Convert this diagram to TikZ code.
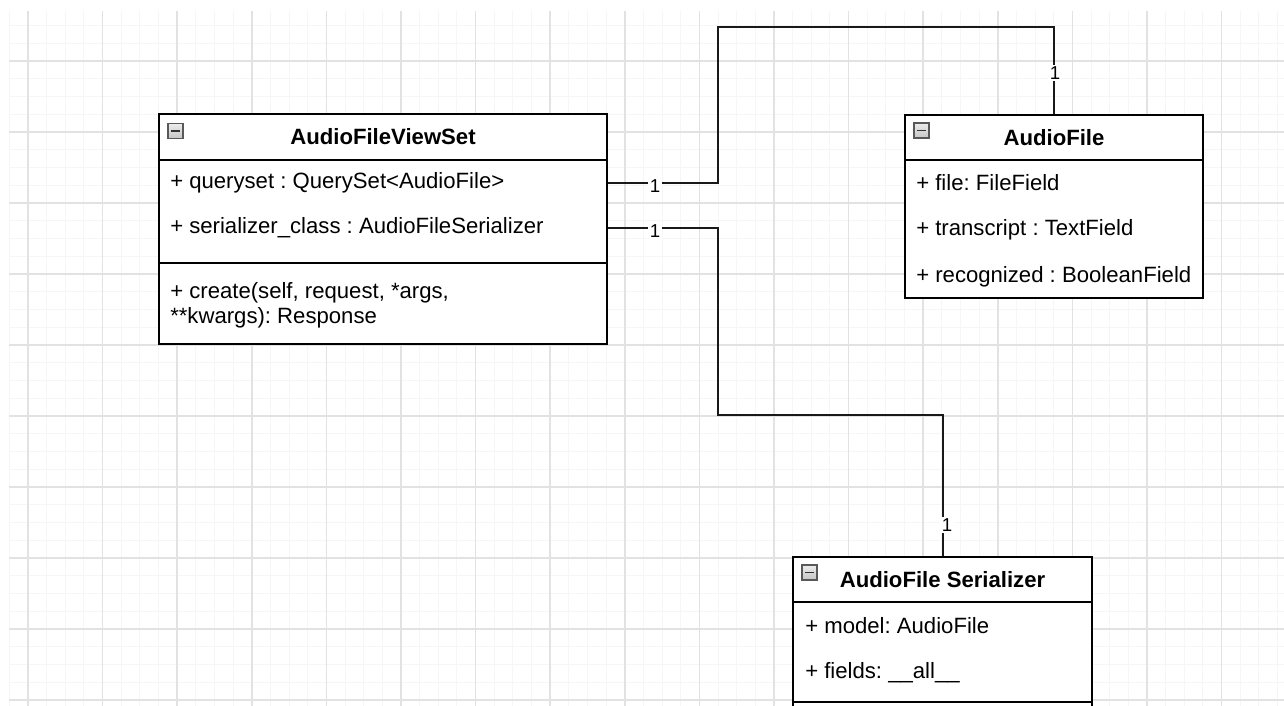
\documentclass[tikz,border=0pt]{standalone}
\usepackage{fontspec}
\setmainfont{Liberation Sans}
\usetikzlibrary{positioning,calc}

\definecolor{minorline}{HTML}{F6F6F6}
\definecolor{majorline}{HTML}{E2E2E2}

\tikzset{
  classbox/.style={draw=black, line width=1.5pt, fill=white, inner sep=0pt},
  cname/.style={inner sep=0pt, font=\fontsize{16.6}{20}\selectfont\bfseries},
  attr/.style={anchor=west, inner sep=0pt, font=\fontsize{16.6}{18.75}\selectfont},
  mult/.style={fill=white, inner sep=1.5pt, font=\fontsize{14}{16}\selectfont},
  assoc/.style={line width=1.5pt, black!90},
  foldicon/.style={draw=gray!70!black, top color=gray!15, bottom color=gray!45,
    minimum size=11.25pt, inner sep=0pt, line width=0.8pt,
    path picture={\draw[line width=1.1pt, black!80]
      ($(path picture bounding box.west)+(2.6pt,0)$) --
      ($(path picture bounding box.east)-(2.6pt,0)$);}},
}

\begin{document}
\frenchspacing
\begin{tikzpicture}[x=0.75pt, y=-0.75pt]
  \clip (0,0) rectangle (1284,706);
  \fill[white] (0,0) rectangle (1284,706);

  % background grid
  \begin{scope}
    \clip (9,11) rectangle (1284,706);
    \foreach \i in {0,...,68}
      \draw[minorline, line width=0.75pt] ({9.3+18.65*\i},11) -- ++(0,700);
    \foreach \j in {0,...,40}
      \draw[minorline, line width=0.75pt] (9,{7.75+17.75*\j}) -- ++(1280,0);
    \foreach \i in {0,...,17}
      \draw[majorline, line width=1.2pt] ({28+74.6*\i},11) -- ++(0,700);
    \foreach \j in {0,...,9}
      \draw[majorline, line width=1.2pt] (9,{61+71*\j}) -- ++(1280,0);
  \end{scope}

  % AudioFileViewSet
  \node[classbox, minimum width=336pt, minimum height=172.5pt] (viewset) at (383,229) {};
  \draw[line width=1.5pt] (159,160) -- (607,160);
  \draw[line width=1.5pt] (159,263) -- (607,263);
  \node[foldicon] (vsicon) at (175.5,131) {};
  \node[cname] (vstitle) at (383,137) {AudioFileViewSet};
  \node[attr] (qs) at (170,183) {+ queryset : QuerySet<AudioFile>};
  \node[attr] (ser) at (170,228) {+ serializer\_class : AudioFileSerializer};
  \node[attr, align=left] (create) at (170,305.5) {+ create(self, request, *args,\\**kwargs): Response};

  % AudioFile
  \node[classbox, minimum width=223.5pt, minimum height=137.25pt] (audiofile) at (1054,206.5) {};
  \draw[line width=1.5pt] (905,160) -- (1203,160);
  \node[foldicon] (aficon) at (921.5,130.5) {};
  \node[cname] (aftitle) at (1054,138) {AudioFile};
  \node[attr] (affile) at (916,183) {+ file: FileField};
  \node[attr] (aftext) at (916,230) {+ transcript : TextField};
  \node[attr] (afrec) at (916,277) {+ recognized : BooleanField};

  % AudioFileSerializer (runs on past the bottom)
  \node[classbox, minimum width=224.25pt, minimum height=167.25pt] (serializer) at (942.5,668.5) {};
  \draw[line width=1.5pt] (793,602) -- (1092,602);
  \draw[line width=1.5pt] (793,702) -- (1092,702);
  \node[foldicon] (sricon) at (809.5,572.5) {};
  \node[cname] (srtitle) at (942.5,580) {AudioFile Serializer};
  \node[attr] (srmodel) at (805,626) {+ model: AudioFile};
  \node[attr] (srfields) at (805,673) {+ fields: \_\_all\_\_};

  % associations
  \coordinate (up) at (718,27);
  \coordinate (down) at (718,415);
  \draw[assoc] (viewset.east |- qs.west) -| (up) -| (audiofile.north);
  \draw[assoc] (viewset.east |- ser.west) -| (down) -| (serializer.north);

  \node[mult] (m1) at (655,186) {1};
  \node[mult] (m2) at (1055,73) {1};
  \node[mult] (m3) at (655,231) {1};
  \node[mult] (m4) at (947,525) {1};
\end{tikzpicture}
\end{document}
